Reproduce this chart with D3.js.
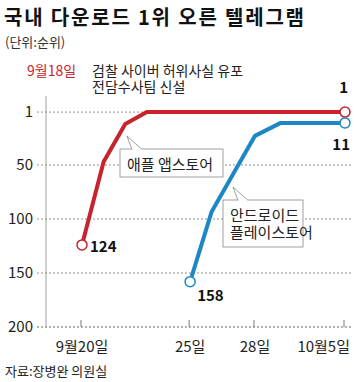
<!DOCTYPE html>
<html>
<head>
<meta charset="utf-8">
<script src="https://cdn.jsdelivr.net/npm/d3@7"></script>
<style>
  body { margin: 0; background: #fff; }
  svg { font-family: "Noto Sans CJK KR", "Noto Sans", sans-serif; }
</style>
</head>
<body>
<div id="chart"></div>
<script>
// data
const appleDates = ['2014-09-20', '2014-09-21', '2014-09-22', '2014-09-23', '2014-10-05'];
const appleRanks = [124, 47, 12, 1, 1];
const androidDates = ['2014-09-25', '2014-09-26', '2014-09-28', '2014-09-30', '2014-10-05'];
const androidRanks = [158, 93, 23, 11, 11];
const yTicks = [1, 50, 100, 150, 200];
const xTickDates = ['2014-09-20', '2014-09-25', '2014-09-28', '2014-10-05'];
const xTickLabels = ['9월20일', '25일', '28일', '10월5일'];
const eventDate = '2014-09-18';

const width = 354, height = 382;
const parse = d3.timeParse('%Y-%m-%d');
const red = '#c8232c', blue = '#1d87c6';

const svg = d3.select('#chart').append('svg')
    .attr('width', width)
    .attr('height', height);

// axis is not linear in time, so use a piecewise scale
const x = d3.scaleTime()
    .domain(['2014-09-18', '2014-09-20', '2014-09-28', '2014-10-05'].map(parse))
    .range([46, 82, 255, 345]);
const y = d3.scaleLinear().domain([0, 200]).range([111, 327]);

// titles
svg.append('text').attr('x', 4).attr('y', 25)
    .attr('font-size', 20).attr('font-weight', 'bold').attr('fill', '#111')
    .attr('textLength', 300)
    .text('국내 다운로드 1위 오른 텔레그램');
svg.append('text').attr('x', 5).attr('y', 47)
    .attr('font-size', 13).attr('fill', '#333')
    .text('(단위:순위)');
svg.append('text').attr('x', 5).attr('y', 376)
    .attr('font-size', 13).attr('fill', '#222')
    .text('자료:장병완 의원실');

// grid lines
svg.selectAll('.grid')
    .data(yTicks.slice(0, 4))
    .enter().append('line')
    .attr('x1', 37).attr('x2', 352)
    .attr('y1', d => y(d)).attr('y2', d => y(d))
    .attr('stroke', '#777').attr('stroke-width', 0.8)
    .attr('stroke-dasharray', '2,2');

svg.selectAll('.ylab')
    .data(yTicks)
    .enter().append('text')
    .attr('x', 33).attr('y', d => y(d) + 5)
    .attr('text-anchor', 'end')
    .attr('font-size', 15).attr('fill', '#222')
    .text(d => d);

// bottom axis
svg.append('line')
    .attr('x1', 37).attr('x2', 352)
    .attr('y1', y(200)).attr('y2', y(200))
    .attr('stroke', '#666').attr('stroke-dasharray', '2,2');
svg.selectAll('.xtick')
    .data(xTickDates)
    .enter().append('line')
    .attr('x1', d => x(parse(d)) - 1).attr('x2', d => x(parse(d)) - 1)
    .attr('y1', y(200) - 7).attr('y2', y(200))
    .attr('stroke', '#777');
svg.selectAll('.xlab')
    .data(xTickDates)
    .enter().append('text')
    .attr('x', (d, i) => i === xTickDates.length - 1 ? 350 : x(parse(d)))
    .attr('y', 352)
    .attr('text-anchor', (d, i) => i === xTickDates.length - 1 ? 'end' : 'middle')
    .attr('font-size', 15).attr('fill', '#222')
    .text((d, i) => xTickLabels[i]);

// event marker
svg.append('line')
    .attr('x1', x(parse(eventDate))).attr('x2', x(parse(eventDate)))
    .attr('y1', 96).attr('y2', y(200))
    .attr('stroke', '#888').attr('stroke-width', 0.8);
svg.append('text').attr('x', 27).attr('y', 76)
    .attr('font-size', 14).attr('fill', red)
    .text('9월18일');
const note = svg.append('text').attr('y', 76)
    .attr('font-size', 14).attr('fill', '#222');
note.append('tspan').attr('x', 92).text('검찰 사이버 허위사실 유포');
note.append('tspan').attr('x', 92).attr('dy', 16).text('전담수사팀 신설');

// lines
const line = d3.line()
    .x(d => x(d.date))
    .y(d => y(d.rank));

function series(dates, ranks) {
    return dates.map((d, i) => ({ date: parse(d), rank: ranks[i] }));
}
const apple = series(appleDates, appleRanks);
const android = series(androidDates, androidRanks);

[[apple, red], [android, blue]].forEach(([data, color]) => {
    svg.append('path')
        .datum(data)
        .attr('d', line)
        .attr('fill', 'none')
        .attr('stroke', color)
        .attr('stroke-width', 4)
        .attr('stroke-linejoin', 'round');
    svg.selectAll(null)
        .data([data[0], data[data.length - 1]])
        .enter().append('circle')
        .attr('cx', d => x(d.date)).attr('cy', d => y(d.rank))
        .attr('r', 5)
        .attr('fill', '#fff')
        .attr('stroke', color).attr('stroke-width', 1.5);
});

// value labels
const first = a => a[0], last = a => a[a.length - 1];
svg.append('text')
    .attr('x', x(first(apple).date) + 8).attr('y', y(first(apple).rank) + 7)
    .attr('font-size', 15).attr('font-weight', 'bold').attr('fill', '#111')
    .text(first(apple).rank);
svg.append('text')
    .attr('x', x(last(apple).date) + 3).attr('y', y(last(apple).rank) - 19)
    .attr('text-anchor', 'end')
    .attr('font-size', 15).attr('font-weight', 'bold').attr('fill', '#111')
    .text(last(apple).rank);
svg.append('text')
    .attr('x', x(first(android).date) + 7).attr('y', y(first(android).rank) + 19)
    .attr('font-size', 15).attr('font-weight', 'bold').attr('fill', '#111')
    .text(first(android).rank);
svg.append('text')
    .attr('x', x(last(android).date) + 5).attr('y', y(last(android).rank) + 27)
    .attr('text-anchor', 'end')
    .attr('font-size', 15).attr('font-weight', 'bold').attr('fill', '#111')
    .text(last(android).rank);

// callouts
function callout(bx, by, bw, bh, tip, base, lines, fs, lh) {
    const g = svg.append('g');
    g.append('rect')
        .attr('x', bx).attr('y', by).attr('width', bw).attr('height', bh)
        .attr('fill', '#fff').attr('stroke', '#888').attr('stroke-width', 0.8);
    g.append('path')
        .attr('d', `M${base[0]},${by + 0.5}L${tip[0]},${tip[1]}L${base[1]},${by + 0.5}`)
        .attr('fill', '#fff').attr('stroke', '#888').attr('stroke-width', 0.8);
    g.append('line')
        .attr('x1', base[0] + 0.5).attr('x2', base[1] - 0.5)
        .attr('y1', by + 0.5).attr('y2', by + 0.5)
        .attr('stroke', '#fff').attr('stroke-width', 1.5);
    const txt = g.append('text')
        .attr('y', by + 21)
        .attr('font-size', fs).attr('fill', '#222');
    lines.forEach((t, i) => {
        txt.append('tspan')
            .attr('x', bx + 7).attr('dy', i === 0 ? 0 : lh)
            .text(t);
    });
}
callout(120, 149, 103, 28, [127, 136], [132, 142], ['애플 앱스토어'], 15, 0);
callout(223, 200, 80, 47, [233, 187], [238, 248], ['안드로이드', '플레이스토어'], 15, 17);
</script>
</body>
</html>
